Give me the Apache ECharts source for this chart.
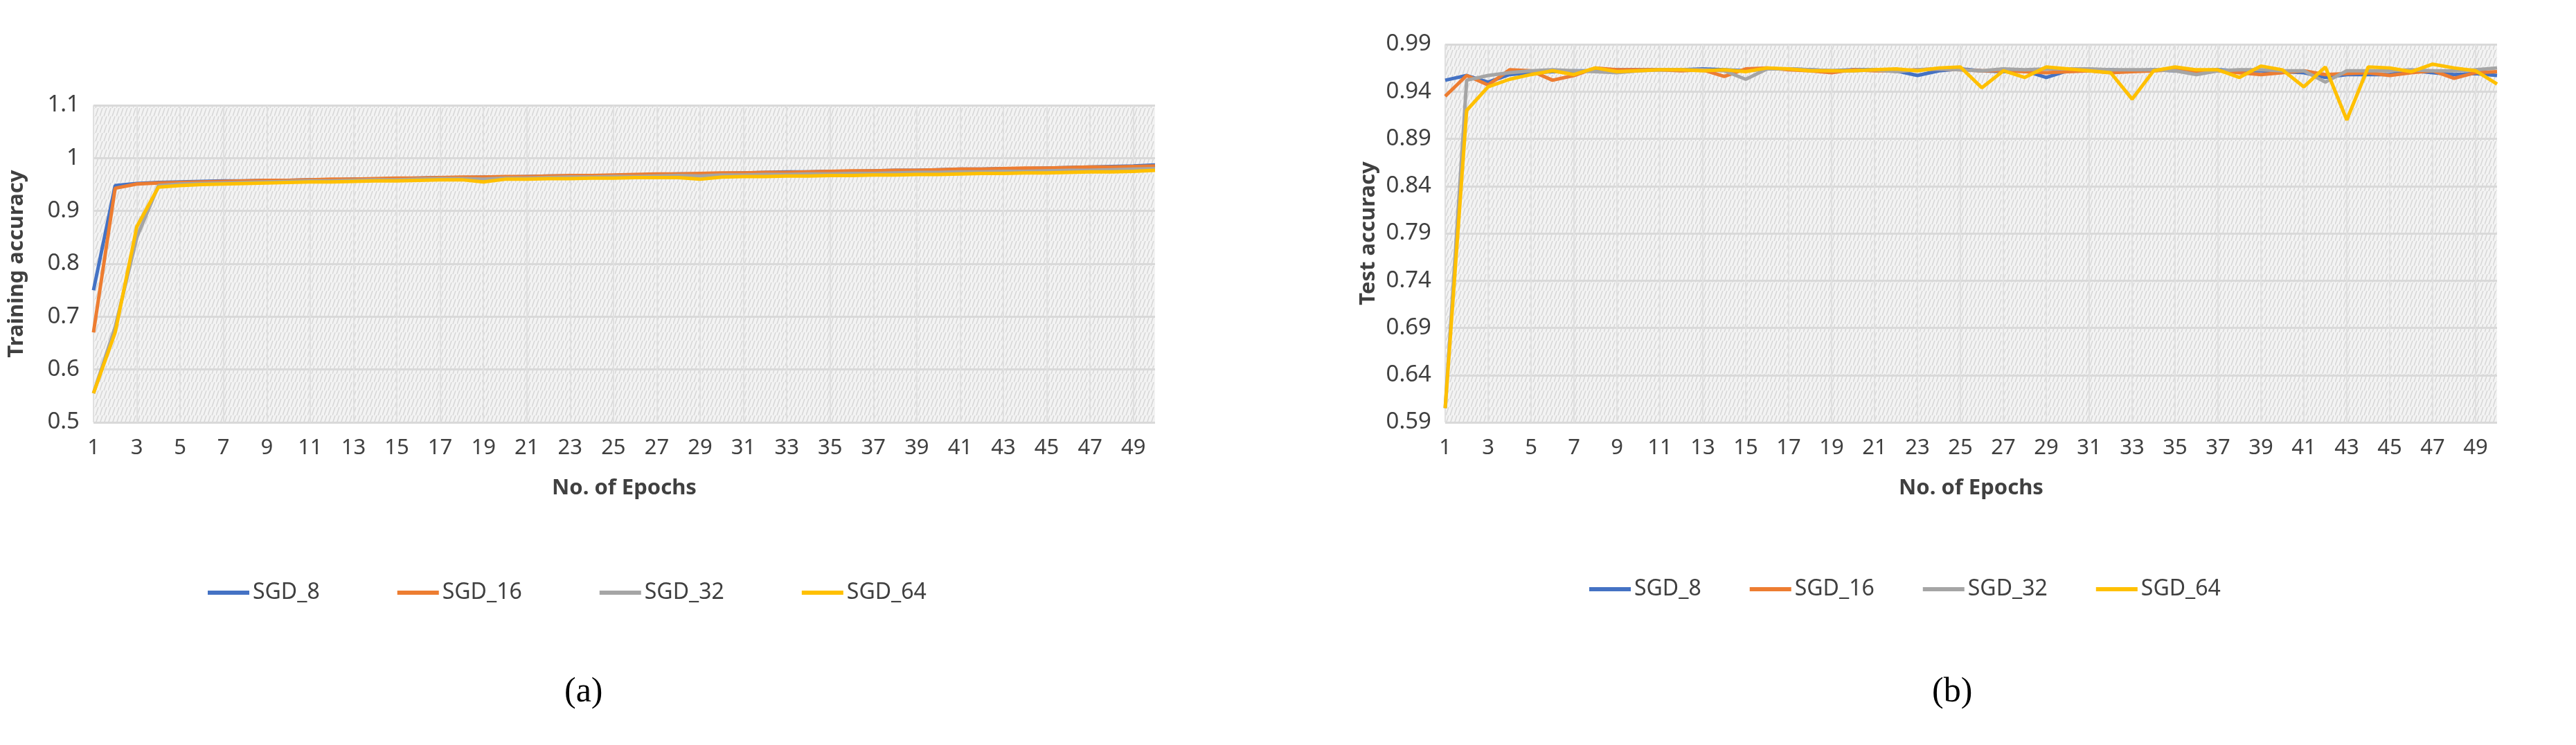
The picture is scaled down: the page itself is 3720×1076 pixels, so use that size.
<!DOCTYPE html>
<html>
<head>
<meta charset="UTF-8">
<script src="https://cdn.jsdelivr.net/npm/echarts@6/dist/echarts.min.js"></script>
<style>
  body { margin: 0; background: #fff; }
  #c { width: 3720px; height: 1076px; }
</style>
</head>
<body>
<div id="c"></div>
<script>
var epochs = [];
for (var i = 1; i <= 50; i++) epochs.push(String(i));

var trainSGD8 = [0.750,0.948,0.952,0.954,0.955,0.956,0.957,0.957,0.958,0.958,0.959,0.959,0.960,0.960,0.961,0.962,0.963,0.963,0.964,0.964,0.965,0.966,0.966,0.967,0.967,0.968,0.969,0.970,0.970,0.971,0.972,0.973,0.974,0.974,0.975,0.975,0.976,0.977,0.977,0.978,0.979,0.979,0.980,0.980,0.981,0.982,0.983,0.984,0.985,0.987];
var trainSGD16 = [0.670,0.943,0.951,0.953,0.954,0.955,0.956,0.957,0.958,0.958,0.959,0.960,0.960,0.961,0.962,0.962,0.963,0.964,0.964,0.965,0.965,0.966,0.967,0.967,0.968,0.969,0.970,0.970,0.971,0.972,0.972,0.973,0.973,0.974,0.975,0.976,0.976,0.977,0.977,0.978,0.979,0.979,0.980,0.981,0.981,0.982,0.983,0.983,0.984,0.985];
var trainSGD32 = [0.555,0.680,0.850,0.948,0.951,0.952,0.953,0.954,0.955,0.956,0.957,0.957,0.958,0.959,0.959,0.960,0.961,0.961,0.960,0.962,0.962,0.963,0.964,0.964,0.965,0.965,0.966,0.967,0.966,0.968,0.968,0.969,0.969,0.970,0.970,0.971,0.971,0.972,0.973,0.973,0.974,0.974,0.975,0.975,0.976,0.977,0.977,0.978,0.979,0.980];
var trainSGD64 = [0.555,0.670,0.870,0.945,0.948,0.950,0.951,0.952,0.953,0.954,0.955,0.955,0.956,0.957,0.957,0.958,0.959,0.959,0.955,0.960,0.960,0.961,0.961,0.962,0.962,0.963,0.963,0.963,0.960,0.964,0.965,0.965,0.966,0.966,0.967,0.967,0.968,0.968,0.969,0.969,0.970,0.971,0.971,0.972,0.972,0.973,0.974,0.974,0.975,0.977];

var testSGD8 = [0.952,0.957,0.950,0.958,0.960,0.961,0.962,0.962,0.963,0.963,0.963,0.963,0.964,0.963,0.962,0.964,0.964,0.963,0.962,0.963,0.963,0.962,0.957,0.962,0.964,0.962,0.961,0.962,0.955,0.962,0.962,0.963,0.962,0.963,0.962,0.962,0.963,0.962,0.962,0.961,0.960,0.955,0.958,0.958,0.958,0.962,0.960,0.958,0.959,0.957];
var testSGD16 = [0.935,0.957,0.947,0.963,0.962,0.952,0.957,0.965,0.963,0.963,0.963,0.962,0.963,0.956,0.964,0.965,0.963,0.962,0.960,0.963,0.962,0.962,0.963,0.964,0.963,0.962,0.962,0.961,0.960,0.961,0.962,0.960,0.961,0.962,0.963,0.961,0.962,0.960,0.958,0.960,0.962,0.958,0.959,0.960,0.957,0.960,0.962,0.954,0.960,0.961];
var testSGD32 = [0.605,0.952,0.957,0.960,0.962,0.963,0.962,0.961,0.960,0.962,0.963,0.963,0.963,0.962,0.953,0.964,0.964,0.963,0.962,0.962,0.963,0.961,0.963,0.964,0.963,0.962,0.964,0.963,0.964,0.964,0.964,0.963,0.963,0.963,0.962,0.958,0.962,0.963,0.963,0.962,0.962,0.950,0.962,0.962,0.962,0.963,0.962,0.962,0.963,0.965];
var testSGD64 = [0.605,0.920,0.945,0.953,0.958,0.962,0.958,0.965,0.961,0.962,0.963,0.963,0.962,0.963,0.961,0.965,0.964,0.962,0.962,0.962,0.963,0.964,0.962,0.965,0.966,0.944,0.962,0.955,0.966,0.964,0.962,0.960,0.932,0.962,0.966,0.963,0.963,0.955,0.967,0.963,0.945,0.966,0.910,0.966,0.965,0.961,0.969,0.965,0.962,0.948];

var names = ['SGD_8', 'SGD_16', 'SGD_32', 'SGD_64'];
var colors = ['#4472C4', '#ED7D31', '#A5A5A5', '#FFC000'];

// hatch pattern for the plot background
var pc = document.createElement('canvas');
pc.width = 12; pc.height = 12;
var ctx = pc.getContext('2d');
ctx.fillStyle = '#f3f3f3';
ctx.fillRect(0, 0, 12, 12);
ctx.strokeStyle = '#d6d6d6';
ctx.lineWidth = 1.5;
ctx.beginPath();
ctx.moveTo(0, 12); ctx.lineTo(4, 0);
ctx.moveTo(6, 12); ctx.lineTo(10, 0);
ctx.stroke();
var hatch = { image: pc, repeat: 'repeat' };

var font = 'Noto Sans';

function xAx(idx) {
  return {
    type: 'category', gridIndex: idx, data: epochs, boundaryGap: false,
    name: 'No. of Epochs', nameLocation: 'middle', nameGap: 80,
    nameTextStyle: { fontFamily: font, fontSize: 31, fontWeight: 'bold', color: '#404040' },
    axisLine: { show: false }, axisTick: { show: false },
    axisLabel: { interval: 1, fontFamily: font, fontSize: 31, color: '#404040', margin: 22 },
    splitLine: { show: true, interval: 1, lineStyle: { color: '#e0e0e0', width: 2 } }
  };
}
function yAx(idx, min, max, step, name, fmt) {
  return {
    type: 'value', gridIndex: idx, min: min, max: max, interval: step,
    name: name, nameLocation: 'middle', nameGap: 95,
    nameTextStyle: { fontFamily: font, fontSize: 31, fontWeight: 'bold', color: '#404040' },
    axisLine: { show: false }, axisTick: { show: false },
    axisLabel: { fontFamily: font, fontSize: 33, color: '#404040', margin: 20, formatter: fmt },
    splitLine: { lineStyle: { color: '#d9d9d9', width: 3 } }
  };
}

var series = [];
var trainData = [trainSGD8, trainSGD16, trainSGD32, trainSGD64];
var testData = [testSGD8, testSGD16, testSGD32, testSGD64];
for (var k = 3; k >= 0; k--) {
  series.push({ name: names[k], type: 'line', xAxisIndex: 0, yAxisIndex: 0, data: trainData[k],
    showSymbol: false, lineStyle: { width: 5, color: colors[k] }, itemStyle: { color: colors[k] }, z: 2 + k });
  series.push({ name: names[k], type: 'line', xAxisIndex: 1, yAxisIndex: 1, data: testData[k],
    showSymbol: false, lineStyle: { width: 5, color: colors[k] }, itemStyle: { color: colors[k] }, z: 2 + k });
}

var chart = echarts.init(document.getElementById('c'));
chart.setOption({
  backgroundColor: '#fff',
  animation: false,
  grid: [
    { left: 135, top: 152, width: 1533, height: 458, show: true, backgroundColor: hatch, borderWidth: 0 },
    { left: 2087, top: 64, width: 1519, height: 546, show: true, backgroundColor: hatch, borderWidth: 0 }
  ],
  xAxis: [xAx(0), xAx(1)],
  yAxis: [
    yAx(0, 0.5, 1.1, 0.1, 'Training accuracy', function (v) { return String(Math.round(v * 10) / 10); }),
    yAx(1, 0.59, 0.99, 0.05, 'Test accuracy', function (v) { return v.toFixed(2); })
  ],
  legend: [
    { data: names, left: 295, top: 835, itemWidth: 60, itemHeight: 6, itemGap: 112,
      icon: 'rect', textStyle: { fontFamily: font, fontSize: 32, color: '#404040' } },
    { data: names, left: 2290, top: 830, itemWidth: 60, itemHeight: 6, itemGap: 70,
      icon: 'rect', textStyle: { fontFamily: font, fontSize: 32, color: '#404040' } }
  ],
  graphic: [
    { type: 'text', left: 815, top: 975, style: { text: '(a)', font: '50px "Liberation Serif"', fill: '#000' } },
    { type: 'text', left: 2790, top: 975, style: { text: '(b)', font: '50px "Liberation Serif"', fill: '#000' } }
  ],
  series: series
});
</script>
</body>
</html>
